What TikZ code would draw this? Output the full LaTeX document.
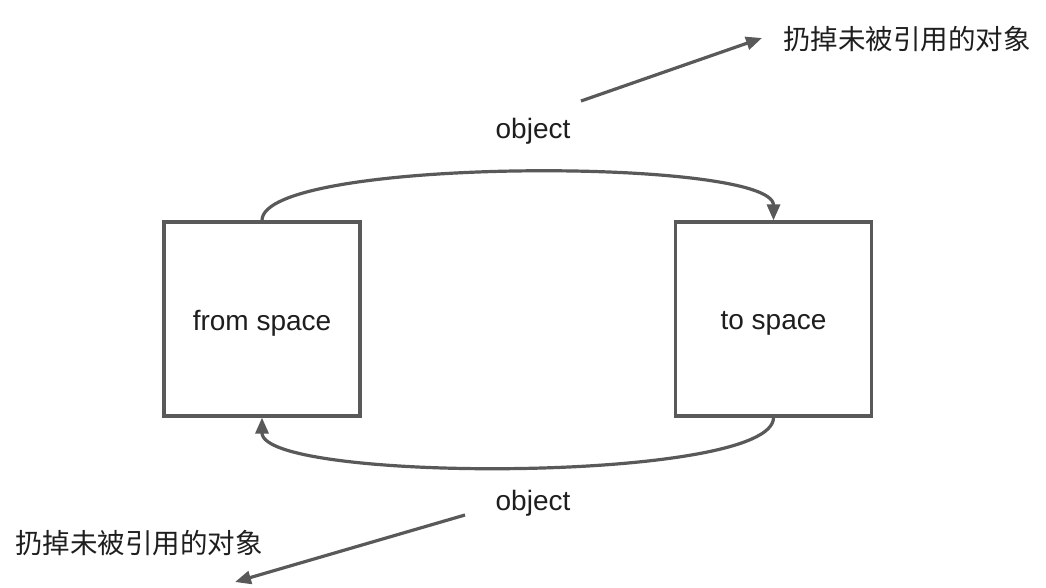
\documentclass[tikz,border=0pt]{standalone}
\usepackage{fontspec}
\setmainfont{Liberation Sans}
\newfontfamily\cjk{Noto Sans CJK SC}
\usetikzlibrary{arrows.meta}
\definecolor{linegray}{HTML}{595959}
\definecolor{textgray}{HTML}{1E1E1E}
\tikzset{
  space/.style={draw=linegray, line width=3.2pt, minimum width=196pt, minimum height=194pt, inner sep=0pt},
  conn/.style={draw=linegray, line width=3.2pt, -{Triangle[length=16pt,width=13pt]}},
  lbl/.style={text=textgray, font=\fontsize{28}{32}\selectfont, inner sep=0pt},
  cjklbl/.style={text=textgray, font=\cjk\fontsize{27.5}{32}\selectfont, inner sep=0pt}
}
\begin{document}
\begin{tikzpicture}[x=1pt,y=-1pt]
\useasboundingbox[fill=white] (0,0) rectangle (1046,588);
\node[space] (from) at (262,319) {};
\node[space] (to) at (773.5,319) {};
\node[lbl] (fromlbl) at (262,323) {from space};
\node[lbl] (tolbl) at (773.5,323) {to space};
\node[lbl] (obj1) at (533,131) {object};
\node[lbl] (obj2) at (533,503) {object};
\node[cjklbl] (drop1) at (907,39) {扔掉未被引用的对象};
\node[cjklbl] (drop2) at (139,543) {扔掉未被引用的对象};
\coordinate (a1s) at (581,101);
\coordinate (a1e) at (762,38);
\coordinate (a2s) at (465,515);
\coordinate (a2e) at (235,582);
\draw[conn] (from.north) .. controls (262,157) and (773.5,157) .. (to.north);
\draw[conn] (to.south) .. controls (773.5,483) and (262,483) .. (from.south);
\draw[conn] (a1s) -- (a1e);
\draw[conn] (a2s) -- (a2e);
\end{tikzpicture}
\end{document}
